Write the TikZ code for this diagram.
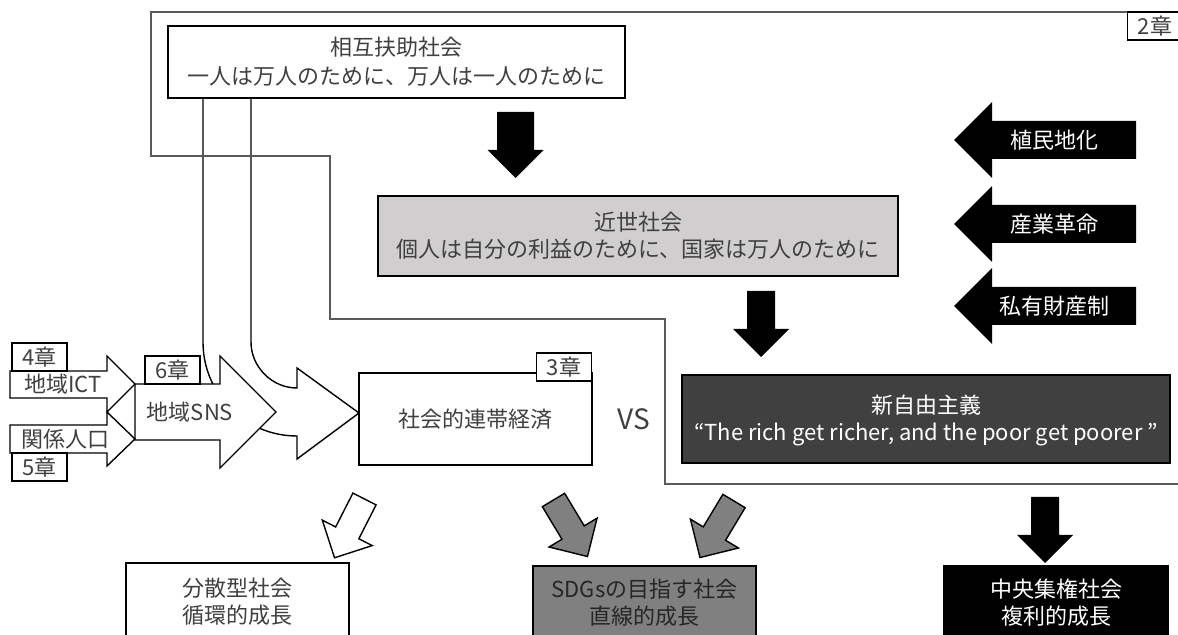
\documentclass[tikz,border=0pt]{standalone}
\usepackage{fontspec}
\setmainfont{Noto Sans CJK JP}
\definecolor{textgray}{HTML}{404040}
\definecolor{lightbox}{HTML}{D0CECE}
\definecolor{darkbox}{HTML}{404040}
\definecolor{midgray}{HTML}{808080}
\definecolor{linegray}{HTML}{595959}

\tikzset{
  txt/.style={text=textgray, align=center, inner sep=0pt, font=\fontsize{11}{13.5}\selectfont},
  wtxt/.style={txt, text=white},
  chap/.style={draw=black, fill=white, line width=0.6pt, text=textgray, inner sep=0pt,
    minimum width=27.5pt, minimum height=14pt, font=\fontsize{11}{13}\selectfont},
  pics/downarrow/.style={code={
    \path[pic actions] (-#1,0) -- (#1,0) -- (#1,38) -- (28,38) -- (0,66)
      -- (-28,38) -- (-#1,38) -- cycle;}},
}

\begin{document}
\begin{tikzpicture}[x=0.5pt, y=-0.5pt, line width=0.7pt]
    \useasboundingbox (0,0) rectangle (1178,635);

    % the bent arrow from the top box down to the solidarity economy
    \draw[fill=white] (203,98) -- (203,342) .. controls (203,394) and (245,436) .. (297,436)
        -- (297,459) -- (359,413) -- (297,368) -- (297,388)
        .. controls (272,388) and (251,367) .. (251,342) -- (251,98);

    % the region of chapter 2
    \draw[linegray, line width=1.3pt] (1185,12) -- (151,12) -- (151,156) -- (330,156)
        -- (330,319) -- (665,319) -- (665,484) -- (1185,484);

    % draw the boxes (the lower ones run off the bottom edge)
    \filldraw[fill=white] (168,26) rectangle (625,98);
    \filldraw[fill=lightbox] (378,196) rectangle (898,276);
    \filldraw[fill=white] (359,373) rectangle (592,465);
    \filldraw[fill=darkbox] (682,375) rectangle (1170,463);
    \filldraw[fill=white] (126,563) rectangle (349,645);
    \filldraw[fill=midgray] (533,566) rectangle (756,645);
    \filldraw[fill=black] (944,566) rectangle (1168,645);

    % the arrows on the left
    \filldraw[fill=white] (135,384) -- (220,384) -- (220,356) -- (276,412) -- (220,468)
        -- (220,440) -- (135,440) -- cycle;
    \filldraw[fill=white] (10,371) -- (107,371) -- (107,356) -- (135,384) -- (107,412)
        -- (107,398) -- (10,398) -- cycle;
    \filldraw[fill=white] (10,425) -- (107,425) -- (107,412) -- (135,439) -- (107,466)
        -- (107,453) -- (10,453) -- cycle;

    % the arrows on the right
    \foreach \y in {140,224,306}
        \fill (954,\y) -- (992,\y-38) -- (992,\y-19) -- (1136,\y-19) -- (1136,\y+19)
            -- (992,\y+19) -- (992,\y+38) -- cycle;

    % block arrows pointing down
    \pic[fill=black] at (515.5,112) {downarrow=18.5};
    \pic[fill=black] at (761,291) {downarrow=14};
    \pic[fill=black] at (1045,497) {downarrow=14};
    \pic[fill=white, draw=black, rotate=-27] at (364.5,499) {downarrow=13};
    \pic[fill=midgray, draw=black, rotate=31] at (553.5,500) {downarrow=13};
    \pic[fill=midgray, draw=black, rotate=-31] at (734,501) {downarrow=13};

    % the chapters
    \node[chap] (ch2) at (1155,26) {2章};
    \node[chap] (ch3) at (564,367) {3章};
    \node[chap] (ch4) at (39.5,357) {4章};
    \node[chap] (ch5) at (39.5,467) {5章};
    \node[chap] (ch6) at (172.5,370) {6章};

    % the texts
    \node[txt, font=\fontsize{11}{14.5}\selectfont] (mutual) at (396.5,62)
        {相互扶助社会\\一人は万人のために、万人は一人のために};
    \node[txt] (early) at (638,235.5) {近世社会\\個人は自分の利益のために、国家は万人のために};
    \node[wtxt] (neolib) at (926,420)
        {新自由主義\\“The rich get richer, and the poor get poorer ”};
    \node[txt] (solidarity) at (475,419) {社会的連帯経済};
    \node[txt, font=\fontsize{14}{16}\selectfont] (vs) at (634,419) {VS};
    \node[txt] (sns) at (190,412) {地域SNS};
    \node[txt] (ict) at (63,384) {地域ICT};
    \node[txt] (kankei) at (65,439) {関係人口};
    \node[wtxt] (colony) at (1054,140) {植民地化};
    \node[wtxt] (industry) at (1054,224) {産業革命};
    \node[wtxt] (property) at (1054,306) {私有財産制};
    \node[txt] (distrib) at (237.5,602) {分散型社会\\循環的成長};
    \node[txt, text=black!85] (sdgs) at (644.5,603) {SDGsの目指す社会\\直線的成長};
    \node[wtxt] (central) at (1056,603) {中央集権社会\\複利的成長};
\end{tikzpicture}
\end{document}
